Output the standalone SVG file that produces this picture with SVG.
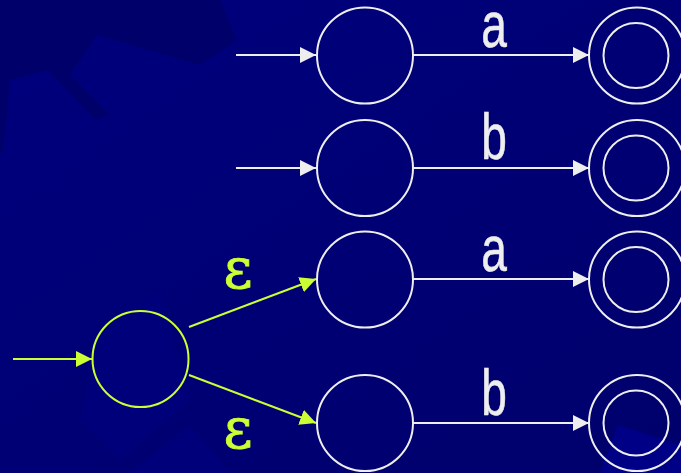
<svg xmlns="http://www.w3.org/2000/svg" width="681" height="473" viewBox="0 0 681 473">
<defs>
<style>
.st{fill:none;stroke:#eeeeee;stroke-width:2}
.sy{fill:none;stroke:#ccff33;stroke-width:2}
.lw{stroke:#eeeeee;stroke-width:2;fill:none}
.ly{stroke:#ccff33;stroke-width:2;fill:none}
.lab{font-family:"Liberation Sans",Arial,sans-serif;font-size:64px;fill:#eeeeee;stroke:#eeeeee;stroke-width:0.6}
.eps{font-family:"DejaVu Serif",serif;font-size:56px;fill:#ccff33;stroke:#ccff33;stroke-width:0.8}
</style>
<linearGradient id="bg" x1="0" y1="0" x2="1" y2="1">
<stop offset="0" stop-color="#00007e"/>
<stop offset="1" stop-color="#00006c"/>
</linearGradient>
<marker id="aw" markerUnits="userSpaceOnUse" markerWidth="16" markerHeight="16" refX="16" refY="8" orient="auto"><path d="M0,0 L16,8 L0,16 z" fill="#eeeeee"/></marker>
<marker id="ay" markerUnits="userSpaceOnUse" markerWidth="16" markerHeight="16" refX="16" refY="8" orient="auto"><path d="M0,0 L16,8 L0,16 z" fill="#ccff33"/></marker>
</defs>
<rect x="0" y="0" width="681" height="473" fill="url(#bg)"/>
<polygon points="0,0 220,0 237,40 200,65 97,35 70,75 110,115 95,120 48,70 10,80 3,153 0,153" fill="#00006a"/>
<polygon points="100,330 160,290 190,400 120,460 80,420" fill="#000088" opacity="0.3"/>
<polygon points="130,473 190,425 230,473" fill="#000086" opacity="0.4"/>
<polygon points="600,473 618,425 681,445 681,473" fill="#00008a" opacity="0.9"/>

<g id="connectors">
<line class="lw" x1="236" y1="55" x2="316" y2="55" marker-end="url(#aw)"/>
<line class="lw" x1="236" y1="168" x2="316" y2="168" marker-end="url(#aw)"/>
<line class="lw" x1="413" y1="55" x2="589" y2="55" marker-end="url(#aw)"/>
<line class="lw" x1="413" y1="168" x2="589" y2="168" marker-end="url(#aw)"/>
<line class="lw" x1="413" y1="279" x2="589" y2="279" marker-end="url(#aw)"/>
<line class="lw" x1="413" y1="423" x2="589" y2="423" marker-end="url(#aw)"/>
<line class="ly" x1="13" y1="359" x2="92" y2="359" marker-end="url(#ay)"/>
<line class="ly" x1="189" y1="327" x2="316" y2="279" marker-end="url(#ay)"/>
<line class="ly" x1="189" y1="375" x2="316" y2="423" marker-end="url(#ay)"/>
<text class="lab" transform="translate(494,47) scale(0.72,1)" text-anchor="middle">a</text>
<text class="lab" transform="translate(494,159) scale(0.72,1)" text-anchor="middle">b</text>
<text class="lab" transform="translate(494,271) scale(0.72,1)" text-anchor="middle">a</text>
<text class="lab" transform="translate(494,415) scale(0.72,1)" text-anchor="middle">b</text>
<text class="eps" x="238" y="288" text-anchor="middle">ε</text>
<text class="eps" x="238" y="448" text-anchor="middle">ε</text>
</g>

<g id="s0"><circle class="sy" cx="140.5" cy="359" r="48"/></g>
<g id="s1"><circle class="st" cx="365" cy="55.5" r="48"/></g>
<g id="s2"><circle class="st" cx="365" cy="168" r="48"/></g>
<g id="s3"><circle class="st" cx="365" cy="279.5" r="48"/></g>
<g id="s4"><circle class="st" cx="365" cy="423" r="48"/></g>
<g id="f1"><circle class="st" cx="637" cy="55.5" r="48"/><circle class="st" cx="636" cy="55.5" r="32.5"/></g>
<g id="f2"><circle class="st" cx="637" cy="168" r="48"/><circle class="st" cx="636" cy="168" r="32.5"/></g>
<g id="f3"><circle class="st" cx="637" cy="279.5" r="48"/><circle class="st" cx="636" cy="279.5" r="32.5"/></g>
<g id="f4"><circle class="st" cx="637" cy="423" r="48"/><circle class="st" cx="636" cy="423" r="32.5"/></g>
</svg>
